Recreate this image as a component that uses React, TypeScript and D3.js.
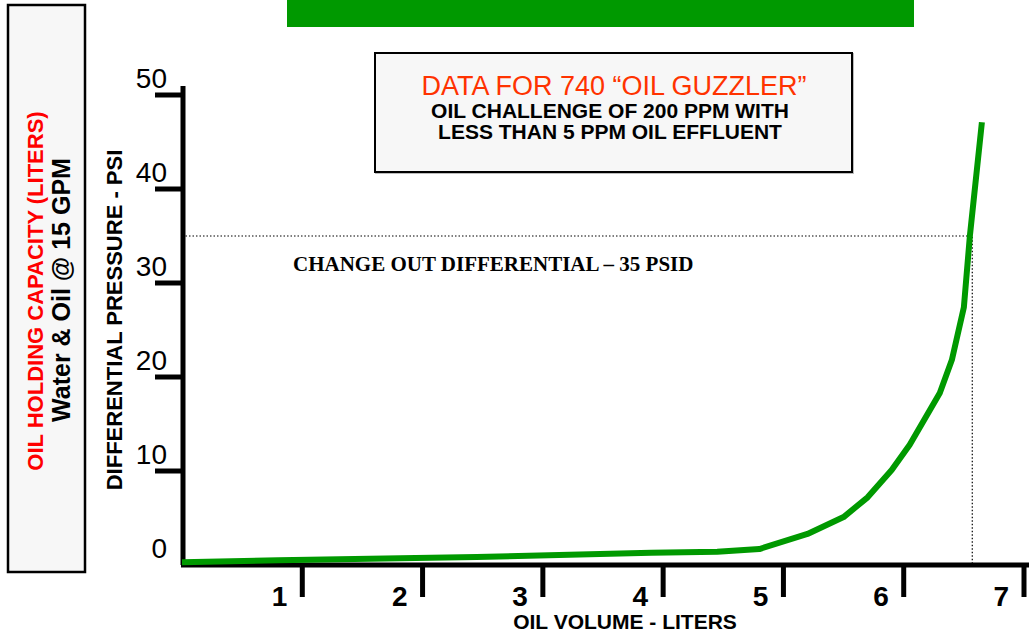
import * as d3 from 'd3';
import React, { useEffect, useRef } from 'react';

// oil volume (liters) vs differential pressure (psi)
const oilVolume = [0, 0.8, 2.45, 3.9, 4.45, 4.8, 5.2, 5.5, 5.7, 5.9, 6.05, 6.3, 6.4, 6.5, 6.55, 6.65];
const pressure = [0.3, 0.5, 0.85, 1.3, 1.4, 1.7, 3.3, 5.1, 7.2, 10.1, 12.8, 18.3, 21.8, 27.4, 35, 47.1];
const xTicks = [1, 2, 3, 4, 5, 6, 7];
const yTicks = [0, 10, 20, 30, 40, 50];
const changeOut = 35;
const changeOutVolume = 6.57;

const SANS = '"Liberation Sans", Arial, sans-serif';
const SERIF = '"Liberation Serif", "Times New Roman", serif';
const GREEN = '#009900';

const App = () => {
  const ref = useRef(null);

  useEffect(() => {
    const svg = d3.select(ref.current);
    svg.selectAll('*').remove();

    const x = d3.scaleLinear().domain([0, 7]).range([182, 1024]);
    const y = d3.scaleLinear().domain([0, 50]).range([565, 95]);

    // green banner at the top
    svg.append('rect')
      .attr('x', 287).attr('y', 0).attr('width', 627).attr('height', 27)
      .attr('fill', GREEN);

    // left caption box
    svg.append('rect')
      .attr('x', 8).attr('y', 5).attr('width', 77).attr('height', 567)
      .attr('fill', '#f7f7f7').attr('stroke', '#000').attr('stroke-width', 2.5);
    svg.append('text')
      .attr('transform', 'translate(43,291) rotate(-90)')
      .attr('text-anchor', 'middle')
      .attr('font-family', SANS).attr('font-weight', 'bold').attr('font-size', 22)
      .attr('fill', '#ff0000')
      .text('OIL HOLDING CAPACITY (LITERS)');
    svg.append('text')
      .attr('transform', 'translate(70,290) rotate(-90)')
      .attr('text-anchor', 'middle')
      .attr('font-family', SANS).attr('font-weight', 'bold').attr('font-size', 25)
      .attr('fill', '#000')
      .text('Water & Oil @ 15 GPM');

    // info box
    svg.append('rect')
      .attr('x', 376).attr('y', 54).attr('width', 477).attr('height', 119)
      .attr('fill', 'none').attr('stroke', '#bbb').attr('stroke-width', 2);
    svg.append('rect')
      .attr('x', 375).attr('y', 53).attr('width', 477).attr('height', 119)
      .attr('fill', '#f7f7f7').attr('stroke', '#000').attr('stroke-width', 2);
    svg.append('text')
      .attr('x', 614).attr('y', 95).attr('text-anchor', 'middle')
      .attr('font-family', SANS).attr('font-size', 27).attr('fill', '#ff3300')
      .text('DATA FOR 740 \u201COIL GUZZLER\u201D');
    svg.append('text')
      .attr('x', 610).attr('y', 118).attr('text-anchor', 'middle')
      .attr('font-family', SANS).attr('font-weight', 'bold').attr('font-size', 21)
      .text('OIL CHALLENGE OF 200 PPM WITH');
    svg.append('text')
      .attr('x', 610).attr('y', 139).attr('text-anchor', 'middle')
      .attr('font-family', SANS).attr('font-weight', 'bold').attr('font-size', 21)
      .text('LESS THAN 5 PPM OIL EFFLUENT');

    // change out dotted lines
    svg.append('path')
      .attr('d', `M${x(0)},${y(changeOut)}H${x(changeOutVolume)}V${y(0)}`)
      .attr('fill', 'none').attr('stroke', '#000').attr('stroke-width', 1.2)
      .attr('stroke-dasharray', '1.5,2');
    svg.append('text')
      .attr('x', 293).attr('y', 271)
      .attr('font-family', SERIF).attr('font-weight', 'bold').attr('font-size', 21)
      .text('CHANGE OUT DIFFERENTIAL \u2013 35 PSID');

    // axes
    svg.append('line')
      .attr('x1', x(0) + 1).attr('x2', x(0) + 1).attr('y1', 86).attr('y2', y(0))
      .attr('stroke', '#000').attr('stroke-width', 5);
    svg.append('line')
      .attr('x1', x(0) - 1).attr('x2', 1029).attr('y1', y(0)).attr('y2', y(0))
      .attr('stroke', '#000').attr('stroke-width', 5);

    svg.selectAll('.ytick')
      .data(yTicks.filter(d => d > 0))
      .join('line')
        .attr('class', 'ytick')
        .attr('x1', 155).attr('x2', x(0) + 1)
        .attr('y1', d => y(d)).attr('y2', d => y(d))
        .attr('stroke', '#000').attr('stroke-width', 5);
    svg.selectAll('.ylabel')
      .data(yTicks)
      .join('text')
        .attr('class', 'ylabel')
        .attr('x', 167).attr('y', d => y(d) - 7)
        .attr('text-anchor', 'end')
        .attr('font-family', SANS).attr('font-size', 28)
        .text(d => d);

    svg.selectAll('.xtick')
      .data(xTicks)
      .join('line')
        .attr('class', 'xtick')
        .attr('x1', d => x(d)).attr('x2', d => x(d))
        .attr('y1', y(0)).attr('y2', 597)
        .attr('stroke', '#000').attr('stroke-width', 5);
    svg.selectAll('.xlabel')
      .data(xTicks)
      .join('text')
        .attr('class', 'xlabel')
        .attr('x', d => x(d) - 15).attr('y', 606)
        .attr('text-anchor', 'end')
        .attr('font-family', SANS).attr('font-weight', 'bold').attr('font-size', 28)
        .text(d => d);

    // axis titles
    svg.append('text')
      .attr('x', 625).attr('y', 629).attr('text-anchor', 'middle')
      .attr('font-family', SANS).attr('font-weight', 'bold').attr('font-size', 21)
      .text('OIL VOLUME - LITERS');
    svg.append('text')
      .attr('transform', 'translate(122,320) rotate(-90)')
      .attr('text-anchor', 'middle')
      .attr('font-family', SANS).attr('font-weight', 'bold').attr('font-size', 22)
      .text('DIFFERENTIAL PRESSURE - PSI');

    // the curve
    const points = oilVolume.map((v, i) => [v, pressure[i]]);
    svg.append('path')
      .datum(points)
      .attr('fill', 'none')
      .attr('stroke', GREEN)
      .attr('stroke-width', 6)
      .attr('stroke-linejoin', 'round')
      .attr('d', d3.line().x(d => x(d[0])).y(d => y(d[1])));
  }, []);

  return (
    <svg ref={ref} width={1029} height={634}
      style={{ position: 'absolute', left: 0, top: 0, background: '#fff' }} />
  );
};

export default App;
